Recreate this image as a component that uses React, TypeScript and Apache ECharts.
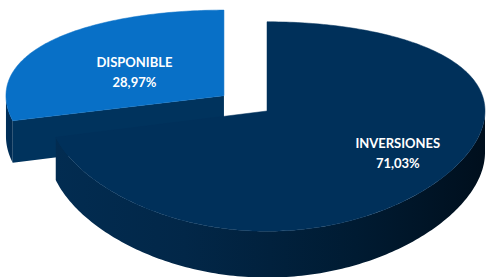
import React, { useEffect, useRef } from 'react';
import * as echarts from 'echarts';

const categories = ['INVERSIONES', 'DISPONIBLE'];
const values = [71.03, 28.97];

// render configuration (geometry / styles)
const CX = 267, CY = 111, KX = 218, F = 1299, DIST = 5.96, SIN = 0.47, COS = 0.8827, H = 0.22;
const explode = [0, 0.25];
const topColors = ['#00305A', '#0870C7'];
const faceColors = ['#002b50', '#00335d'];
const wallStops = [
  [
    { offset: 0, color: '#022c51' },
    { offset: 0.3, color: '#022748' },
    { offset: 0.7, color: '#001b32' },
    { offset: 1, color: '#000f1d' },
  ],
  [
    { offset: 0, color: '#00305a' },
    { offset: 1, color: '#002b52' },
  ],
];
const labelPlace = [
  { r: 0.76, dy: -9 },
  { r: 0.52, dy: 6 },
];

function proj(x: number, z: number, h: number): number[] {
  const d = DIST - z * COS - h * SIN;
  return [CX + KX * x, CY + (F * (z * SIN - h * COS)) / d];
}

export default function App() {
  const ref = useRef<HTMLDivElement>(null);
  useEffect(() => {
    const chart = echarts.init(ref.current!, null, { renderer: 'svg' });
    const total = values.reduce((a, b) => a + b, 0);
    const starts: number[] = [];
    let acc = 0;
    values.forEach((v) => {
      starts.push((acc / total) * 360);
      acc += v;
    });
    const rad = (a: number) => (a * Math.PI) / 180;
    const midZ = values.map((v, i) => -Math.cos(rad(starts[i] + ((v / total) * 360) / 2)));
    const order = values.map((_, i) => i).sort((a, b) => midZ[a] - midZ[b]);

    const renderItem = (params: any, api: any) => {
      const i = api.value(0) as number;
      const a0 = starts[i];
      const a1 = a0 + (values[i] / total) * 360;
      const mid = (a0 + a1) / 2;
      const ox = explode[i] * Math.sin(rad(mid));
      const oz = -explode[i] * Math.cos(rad(mid));
      const pt = (a: number, r: number, h: number) =>
        proj(ox + r * Math.sin(rad(a)), oz - r * Math.cos(rad(a)), h);
      const arc = (s: number, e: number, h: number) => {
        const n = Math.max(2, Math.ceil(Math.abs(e - s)));
        const out: number[][] = [];
        for (let k = 0; k <= n; k++) out.push(pt(s + ((e - s) * k) / n, 1, h));
        return out;
      };
      const children: any[] = [];
      // outer wall (front-facing part)
      const ws = Math.max(a0, 90);
      const we = Math.min(a1, 270);
      if (we > ws) {
        const topArc = arc(ws, we, 0);
        const botArc = arc(ws, we, -H).reverse();
        children.push({
          type: 'polygon',
          shape: { points: topArc.concat(botArc) },
          style: {
            fill: new echarts.graphic.LinearGradient(0, 0, 1, 0, wallStops[i]),
            stroke: null,
          },
        });
      }
      // radial faces
      const faces: number[] = [];
      if (-Math.sin(rad(a0)) > 1e-6) faces.push(a0);
      if (Math.sin(rad(a1)) > 1e-6) faces.push(a1);
      faces.forEach((a) => {
        const c0 = proj(ox, oz, 0);
        const c1 = proj(ox, oz, -H);
        children.push({
          type: 'polygon',
          shape: { points: [c0, pt(a, 1, 0), pt(a, 1, -H), c1] },
          style: { fill: faceColors[i], stroke: null },
        });
      });
      // top surface
      children.push({
        type: 'polygon',
        shape: { points: [proj(ox, oz, 0)].concat(arc(a0, a1, 0)) },
        style: { fill: topColors[i], stroke: topColors[i], lineWidth: 0.5 },
      });
      // label
      const lp = pt(mid, labelPlace[i].r, 0);
      const pct = ((values[i] / total) * 100).toFixed(2).replace('.', ',') + '%';
      children.push({
        type: 'text',
        style: {
          text: categories[i] + '\n' + pct,
          x: lp[0],
          y: lp[1] + labelPlace[i].dy,
          fill: '#ffffff',
          font: 'bold 13px Lato, "Open Sans", sans-serif',
          align: 'center',
          verticalAlign: 'middle',
          lineHeight: 20,
        },
      });
      return { type: 'group', children };
    };

    chart.setOption({
      animation: false,
      backgroundColor: '#ffffff',
      series: [
        {
          type: 'custom',
          coordinateSystem: 'none',
          renderItem,
          data: order.map((i) => [i]),
        },
      ],
    });
    return () => chart.dispose();
  }, []);
  return (
    <div
      ref={ref}
      style={{ position: 'fixed', left: 0, top: 0, width: 486, height: 277 }}
    />
  );
}
